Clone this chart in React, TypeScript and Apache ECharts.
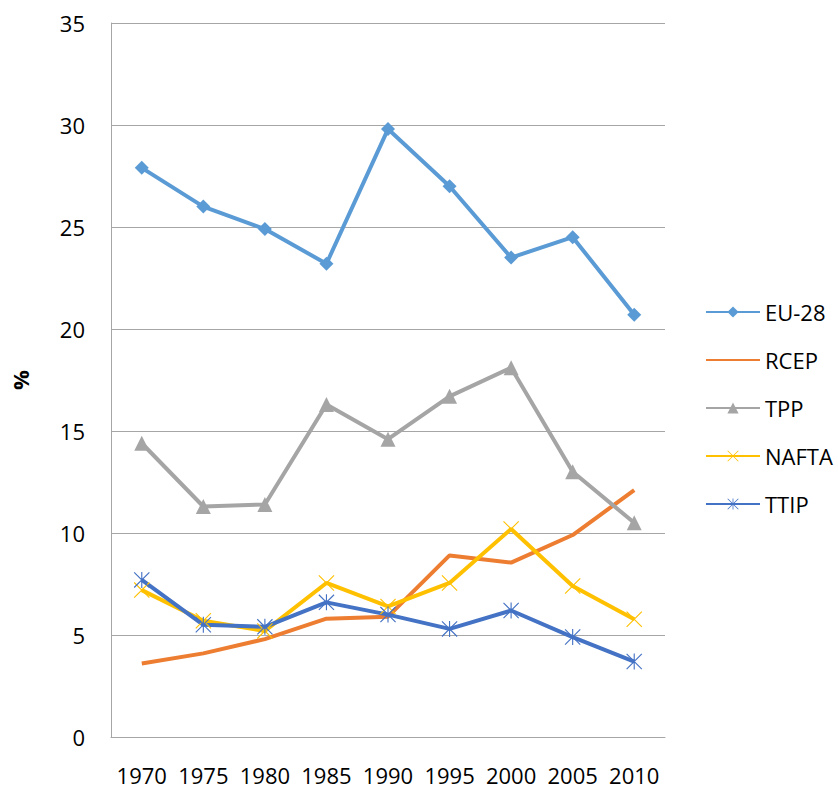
import React, { useEffect, useRef } from "react";
import * as echarts from "echarts";

const years = ["1970", "1975", "1980", "1985", "1990", "1995", "2000", "2005", "2010"];
const eu28 = [27.9, 26.0, 24.9, 23.2, 29.8, 27.0, 23.5, 24.5, 20.7];
const rcep = [3.6, 4.1, 4.8, 5.8, 5.9, 8.9, 8.55, 9.9, 12.1];
const tpp = [14.4, 11.3, 11.4, 16.3, 14.6, 16.7, 18.1, 13.0, 10.5];
const nafta = [7.2, 5.7, 5.2, 7.55, 6.4, 7.55, 10.2, 7.4, 5.77];
const ttip = [7.7, 5.5, 5.4, 6.6, 6.0, 5.3, 6.2, 4.9, 3.7];

const FONT = "'Open Sans', 'Liberation Sans', sans-serif";
const GRID_COLOR = "#A6A6A6";

const X_PATH =
  "path://M0,5 L5,0 L100,95 L95,100 Z M95,0 L100,5 L5,100 L0,95 Z";
const STAR_PATH =
  "path://M0,5 L5,0 L100,95 L95,100 Z M95,0 L100,5 L5,100 L0,95 Z M46.5,0 L53.5,0 L53.5,100 L46.5,100 Z";

export default function App() {
  const ref = useRef<HTMLDivElement>(null);
  useEffect(() => {
    if (!ref.current) return;
    const chart = echarts.init(ref.current, undefined, { renderer: "svg" });
    const lineSeries = (name: string, data: number[], color: string, symbol: string, size: number, show: boolean) => ({
      name,
      type: "line",
      data,
      symbol,
      symbolSize: size,
      showSymbol: show,
      lineStyle: { color, width: 4 },
      itemStyle: { color, borderWidth: 0 },
      emphasis: { disabled: true },
    });
    chart.setOption({
      animation: false,
      backgroundColor: "#ffffff",
      textStyle: { fontFamily: FONT },
      grid: { left: 111, right: 173, top: 23, bottom: 52, containLabel: false },
      legend: {
        orient: "vertical",
        left: 705,
        top: 300,
        padding: 0,
        itemWidth: 54,
        itemHeight: 14,
        itemGap: 24,
        textStyle: { fontSize: 22, fontFamily: FONT, color: "#000", lineHeight: 24 },
        data: [
          "EU-28",
          { name: "RCEP", itemStyle: { opacity: 0 } },
          "TPP",
          "NAFTA",
          "TTIP",
        ],
      },
      xAxis: {
        type: "category",
        data: years,
        boundaryGap: true,
        axisLine: { show: true, lineStyle: { color: GRID_COLOR, width: 1 } },
        axisTick: { show: false },
        axisLabel: { interval: 0, fontSize: 22, fontFamily: FONT, color: "#000", margin: 29, lineHeight: 18 },
        splitLine: { show: false },
      },
      yAxis: {
        type: "value",
        min: 0,
        max: 35,
        interval: 5,
        name: "%",
        nameLocation: "middle",
        nameGap: 80,
        nameTextStyle: { fontSize: 22, fontWeight: "bold", fontFamily: FONT, color: "#000" },
        axisLine: { show: true, lineStyle: { color: GRID_COLOR, width: 1 } },
        axisTick: { show: false },
        axisLabel: { fontSize: 22, fontFamily: FONT, color: "#000", margin: 26 },
        splitLine: { show: true, lineStyle: { color: GRID_COLOR, width: 1 } },
      },
      series: [
        lineSeries("EU-28", eu28, "#5B9BD5", "diamond", 14, true),
        lineSeries("RCEP", rcep, "#ED7D31", "circle", 0, false),
        lineSeries("TPP", tpp, "#A5A5A5", "triangle", 15, true),
        lineSeries("NAFTA", nafta, "#FFC000", X_PATH, 16, true),
        lineSeries("TTIP", ttip, "#4472C4", STAR_PATH, 16, true),
      ],
    });
    return () => chart.dispose();
  }, []);
  return (
    <div
      ref={ref}
      style={{ position: "absolute", left: 0, top: 0, width: 838, height: 789 }}
    />
  );
}
